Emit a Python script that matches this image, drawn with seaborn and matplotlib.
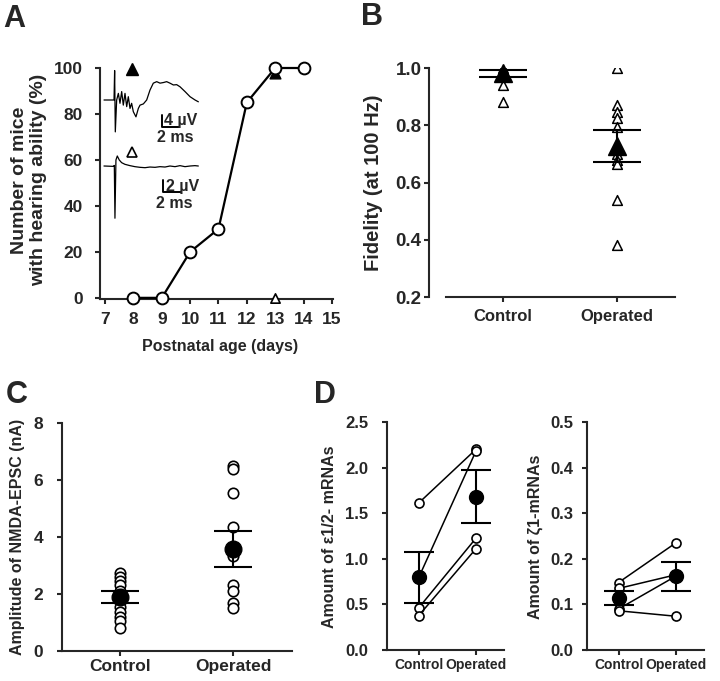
import numpy as np
import pandas as pd
import seaborn as sns
import matplotlib.pyplot as plt

# --- Panel A: onset of hearing ---
ages = [8, 9, 10, 11, 12, 13, 14]
hearing_pct = [0, 0, 20, 30, 85, 100, 100]
filled_tri_age, filled_tri_pct = [13], [98]
open_tri_age, open_tri_pct = [13], [0]

# inset ABR traces (ms, uV)
trace1_t = [0, 1.18, 1.25, 1.33, 1.49, 1.69, 1.88, 2.08, 2.27, 2.47, 2.67, 2.86, 3.06, 3.25,
            3.45, 3.76, 4.04, 4.24, 4.63, 5.02, 5.41, 5.80, 6.20, 6.59, 6.98, 7.37, 7.76,
            8.16, 8.55, 8.94, 9.53, 10.12, 10.71, 11.10]
trace1_v = [0, 0, 9.8, -10.6, 0, 2.2, -1.1, 2.8, -1.7, 2.2, -2.2, 1.1, -2.8, -1.1,
            -3.9, -5.6, -2.8, -1.7, -1.3, 0, 3.3, 5.6, 6.1, 5.6, 5.8, 6.1, 5.6,
            5.0, 5.1, 4.4, 2.8, 1.1, 0, -0.6]
trace2_t = [0, 1.04, 1.15, 1.22, 1.33, 1.48, 1.70, 1.96, 2.33, 2.89, 3.44, 4.00, 4.56,
            5.11, 5.67, 6.22, 6.78, 7.33, 7.89, 8.44, 9.00, 9.56, 10.10, 10.48]
trace2_v = [0, -0.06, 0.1, -8.7, 1.0, 1.67, 1.0, 0.56, 0.28, 0.06, -0.11, -0.22, -0.28,
            -0.17, -0.22, -0.11, -0.17, 0, -0.11, 0.06, -0.11, 0, 0.06, 0]

# --- Panel B: fidelity at 100 Hz ---
groups = ['Control', 'Operated']
fid_control = [1.0, 0.94, 0.88]
fid_operated = [1.0, 0.87, 0.845, 0.825, 0.795, 0.72, 0.70, 0.68, 0.665, 0.54, 0.38]
fid_mean = [0.982, 0.726]
fid_sem = [0.012, 0.056]

# --- Panel C: NMDA-EPSC amplitude ---
nmda_control = [2.75, 2.6, 2.45, 2.3, 2.1, 1.95, 1.8, 1.55, 1.38, 1.2, 1.05, 0.8]
nmda_operated = [6.5, 6.4, 5.55, 4.35, 3.35, 2.3, 2.1, 1.7, 1.5]
nmda_mean = [1.9, 3.58]
nmda_sem = [0.22, 0.62]

# --- Panel D: mRNA amounts (paired) ---
eps_control = [1.61, 0.79, 0.46, 0.375]
eps_operated = [2.20, 2.18, 1.225, 1.11]
eps_mean = [0.80, 1.68]
eps_sem = [0.28, 0.29]
zeta_control = [0.148, 0.135, 0.090, 0.086]
zeta_operated = [0.235, 0.165, 0.162, 0.074]
zeta_mean = [0.114, 0.162]
zeta_sem = [0.0155, 0.032]

W, H = 720, 681

sns.set_style('ticks')
plt.rcParams['font.family'] = ['Liberation Sans', 'DejaVu Sans']
plt.rcParams['font.weight'] = 'bold'
plt.rcParams['axes.linewidth'] = 1.5
plt.rcParams['xtick.major.width'] = 1.5
plt.rcParams['ytick.major.width'] = 1.5
plt.rcParams['xtick.major.size'] = 3.6
plt.rcParams['ytick.major.size'] = 3.6

fig = plt.figure(figsize=(W / 100, H / 100), dpi=100)


def px_axes(left, top, right, bottom):
    return fig.add_axes([left / W, 1 - bottom / H, (right - left) / W, (bottom - top) / H])


def px_text(x, y, s, **kw):
    fig.text(x / W, 1 - y / H, s, **kw)


def style(ax, size, xpad, ypad, xsize=None):
    sns.despine(ax=ax)
    ax.tick_params(axis='x', labelsize=xsize or size, pad=xpad)
    ax.tick_params(axis='y', labelsize=size, pad=ypad)
    ax.set_xlabel('')
    ax.set_ylabel('')
    for lab in ax.get_xticklabels() + ax.get_yticklabels():
        lab.set_fontweight('bold')


def strip_df(ctrl, oper):
    return pd.DataFrame({'group': ['Control'] * len(ctrl) + ['Operated'] * len(oper),
                         'value': list(ctrl) + list(oper)})


def pair_df(ctrl, oper):
    rows = []
    for i, (c, o) in enumerate(zip(ctrl, oper)):
        rows.append({'pair': i, 'pos': 0, 'value': c})
        rows.append({'pair': i, 'pos': 1, 'value': o})
    return pd.DataFrame(rows)


# ---------------- Panel A ----------------
axA = px_axes(100, 68, 333, 299)
axA.scatter(filled_tri_age, filled_tri_pct, marker='^', s=60, color='black', zorder=2, clip_on=False)
sns.lineplot(x=ages, y=hearing_pct, ax=axA, color='black', linewidth=1.6, marker='o',
             markersize=8.5, markerfacecolor='white', markeredgecolor='black',
             markeredgewidth=1.4, clip_on=False, zorder=3)
axA.scatter(open_tri_age, open_tri_pct, marker='^', s=45, facecolor='white', edgecolor='black',
            linewidth=1.2, zorder=4, clip_on=False)
axA.set_xlim(6.82, 15.04)
axA.set_ylim(-0.5, 100)
axA.set_xticks(range(7, 16))
axA.set_yticks(range(0, 101, 20))
style(axA, 12.5, 6, 9)

# inset traces
axT1 = px_axes(100, 60, 205, 140)
axT1.plot(trace1_t, trace1_v, color='black', linewidth=0.9)
axT1.plot([6.82, 6.82, 8.82], [-5, -9, -9], color='black', linewidth=1.4)
axT1.plot([3.3], [10.3], marker='^', ms=8, color='black', clip_on=False)
axT1.text(7.1, -9.3, '4 \u00b5V', fontsize=11.5, fontweight='bold', ha='left', va='bottom')
axT1.text(8.4, -10.0, '2 ms', fontsize=11.5, fontweight='bold', ha='center', va='top')
axT1.set_xlim(-0.47, 11.88)
axT1.set_ylim(-13.3, 13.3)
axT1.axis('off')

axT2 = px_axes(100, 145, 205, 225)
axT2.plot(trace2_t, trace2_v, color='black', linewidth=0.9)
axT2.plot([6.56, 6.56, 8.56], [-2.33, -4.33, -4.33], color='black', linewidth=1.4)
axT2.plot([3.1], [2.4], marker='^', ms=7, markerfacecolor='white', markeredgecolor='black',
          markeredgewidth=1.2, clip_on=False)
axT2.text(6.85, -4.6, '2 \u00b5V', fontsize=11.5, fontweight='bold', ha='left', va='bottom')
axT2.text(7.83, -5.0, '2 ms', fontsize=11.5, fontweight='bold', ha='center', va='top')
axT2.set_xlim(-0.44, 11.22)
axT2.set_ylim(-9.83, 3.5)
axT2.axis('off')

px_text(29, 180, 'Number of mice\nwith hearing ability (%)', fontsize=14, fontweight='bold',
        rotation=90, ha='center', va='center', linespacing=1.1)
px_text(220, 347, 'Postnatal age (days)', fontsize=11.5, fontweight='bold', ha='center', va='center')

# ---------------- Panel B ----------------
axB = px_axes(446, 68, 675, 297)
sns.stripplot(data=strip_df(fid_control, fid_operated), x='group', y='value', order=groups,
              jitter=False, marker='^', color='white', edgecolor='black', linewidth=1.1,
              size=7, ax=axB, zorder=2)
axB.errorbar([0, 1], fid_mean, yerr=fid_sem, fmt='^', ms=13, color='black', capsize=17,
             elinewidth=1.5, capthick=1.5, zorder=4, clip_on=False)
axB.set_xlim(-0.5, 1.51)
axB.set_ylim(0.2, 1.0)
axB.set_yticks([0.2, 0.4, 0.6, 0.8, 1.0])
style(axB, 13.5, 5, 2, xsize=12)
axB.spines['left'].set_position(('outward', 12))
px_text(373, 183, 'Fidelity (at 100 Hz)', fontsize=14.5, fontweight='bold', rotation=90,
        ha='center', va='center')

# ---------------- Panel C ----------------
axC = px_axes(62, 423, 292, 651)
sns.stripplot(data=strip_df(nmda_control, nmda_operated), x='group', y='value', order=groups,
              jitter=False, marker='o', color='white', edgecolor='black', linewidth=1.2,
              size=7.5, ax=axC, zorder=2)
axC.errorbar([0, 1], nmda_mean, yerr=nmda_sem, fmt='o', ms=12, color='black', capsize=14,
             elinewidth=1.5, capthick=1.5, zorder=4)
axC.set_xlim(-0.51, 1.52)
axC.set_ylim(0, 8)
axC.set_yticks([0, 2, 4, 6, 8])
style(axC, 12.5, 2, 10)
px_text(18, 537, 'Amplitude of NMDA-EPSC (nA)', fontsize=11.5, fontweight='bold', rotation=90,
        ha='center', va='center')

# ---------------- Panel D ----------------
for left, ctrl, oper, mean, sem, ylim, yticks, label, lab_x, ypad in [
        (387, eps_control, eps_operated, eps_mean, eps_sem, 2.5, np.arange(0, 2.51, 0.5),
         'Amount of \u03b51/2- mRNAs', 330, 10),
        (587, zeta_control, zeta_operated, zeta_mean, zeta_sem, 0.5, np.arange(0, 0.51, 0.1),
         'Amount of \u03b61-mRNAs', 535, 6)]:
    ax = px_axes(left, 422, left + 117, 650)
    sns.lineplot(data=pair_df(ctrl, oper), x='pos', y='value', units='pair', estimator=None,
                 color='black', linewidth=1.1, marker='o', markersize=6.5,
                 markerfacecolor='white', markeredgecolor='black', markeredgewidth=1.2,
                 ax=ax, zorder=2)
    ax.errorbar([0, 1], mean, yerr=sem, fmt='o', ms=10, color='black', capsize=11,
                elinewidth=1.5, capthick=1.5, zorder=4)
    ax.set_xlim(-0.55, 1.49)
    ax.set_ylim(0, ylim)
    ax.set_yticks(yticks)
    ax.set_yticklabels([f'{v:.1f}' for v in yticks])
    ax.set_xticks([0, 1])
    ax.set_xticklabels(['Control', 'Operated'])
    style(ax, 12, 2, ypad, xsize=10)
    px_text(lab_x, 537, label, fontsize=11.5, fontweight='bold', rotation=90,
            ha='center', va='center')

# panel letters
for x, y, s in [(3, 4, 'A'), (361, 2, 'B'), (6, 380, 'C'), (314, 380, 'D')]:
    px_text(x, y, s, fontsize=22, fontweight='bold', ha='left', va='top')

fig.savefig('out.png', dpi=100, facecolor='white')
